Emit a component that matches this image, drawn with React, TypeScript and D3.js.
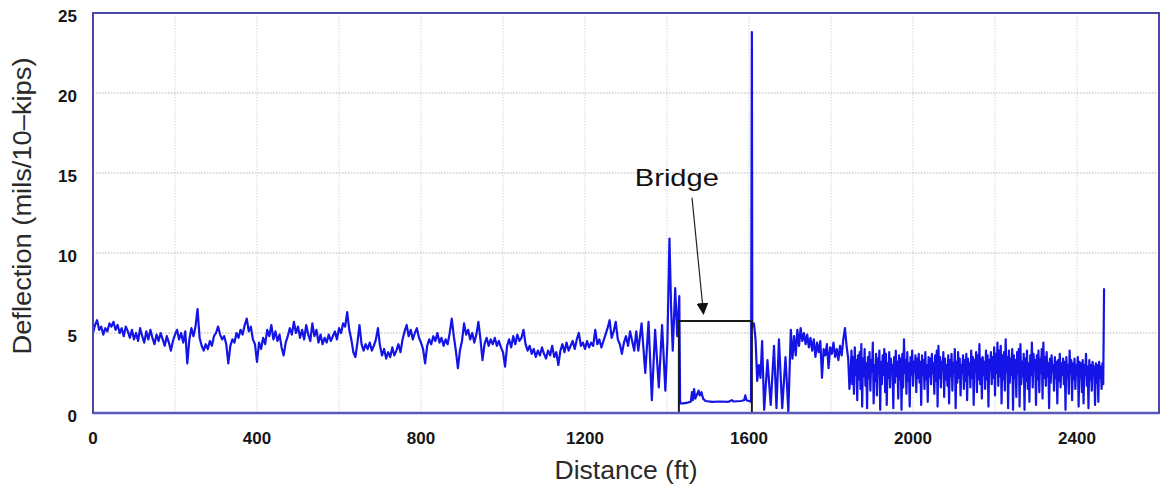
import React from 'react';
import * as d3 from 'd3';

// Falling-weight deflection profile along a roadway alignment, with a bridge span.

const WIDTH = 1163;
const HEIGHT = 486;

const X_TICKS = [0, 400, 800, 1200, 1600, 2000, 2400];
const X_GRID = [200, 400, 600, 800, 1000, 1200, 1400, 1600, 1800, 2000, 2200, 2400];
const Y_TICKS = [0, 5, 10, 15, 20, 25];
const Y_GRID = [5, 10, 15, 20];

// Approach pavement, stations every 5 ft from 0 to 1295 ft (mils/10-kips)
const APPROACH_STEP = 5;
const approachDefl = [
  5.0, 5.5, 5.8, 5.2, 5.4, 4.9, 5.3, 5.1, 5.6, 5.4, 5.7, 5.2, 5.5, 5.0, 5.3, 4.8, 5.4, 5.1, 4.7, 5.2,
  4.6, 5.0, 4.5, 5.3, 4.8, 4.4, 5.1, 4.6, 5.2, 4.7, 4.3, 4.9, 4.5, 5.0, 4.6, 4.2, 4.8, 4.4, 3.9, 4.5,
  4.9, 5.2, 4.6, 5.0, 4.4, 5.1, 3.1, 4.6, 5.3, 4.8, 5.4, 6.5, 4.7, 4.2, 3.9, 4.3, 4.0, 4.5, 4.2, 4.8,
  5.0, 5.4, 4.9, 4.6, 4.8, 4.3, 3.1, 4.2, 4.6, 4.4, 5.0, 4.7, 5.2, 4.9, 5.5, 5.9, 5.1, 5.4, 4.6, 4.3,
  3.2, 4.4, 4.0, 4.7, 4.3, 5.2, 4.8, 5.5, 4.6, 5.1, 4.5, 4.9, 4.1, 3.6, 4.4, 4.8, 5.3, 4.9, 5.7, 5.0,
  5.4, 4.7, 5.2, 4.6, 5.5, 4.9, 4.5, 5.6, 4.8, 5.2, 4.4, 4.9, 4.3, 4.7, 4.4, 4.9, 4.5, 4.8, 5.1, 4.6,
  5.3, 5.0, 5.6, 5.4, 6.3, 5.2, 4.6, 3.8, 3.5, 4.4, 5.5, 4.3, 3.9, 4.3, 4.0, 4.4, 3.9, 4.2, 4.6, 5.3,
  4.2, 3.6, 4.0, 3.4, 3.8, 3.5, 4.1, 3.6, 3.9, 4.3, 3.8, 4.6, 5.1, 5.5, 4.8, 5.2, 4.6, 5.0, 5.3, 4.7,
  4.4, 4.0, 3.1, 4.2, 4.6, 4.3, 4.8, 4.5, 5.0, 4.4, 4.7, 4.2, 4.6, 4.3, 5.0, 5.9, 4.8, 3.9, 2.8, 3.9,
  4.5, 5.6, 4.9, 5.2, 4.6, 5.0, 4.4, 4.9, 5.7, 4.6, 3.3, 4.3, 4.7, 4.2, 4.6, 4.3, 4.7, 4.2, 4.5, 4.1,
  3.8, 2.9, 4.2, 4.6, 4.1, 4.8, 4.3, 4.9, 4.5, 4.7, 5.2, 4.3, 3.9, 4.2, 3.7, 4.0, 3.5, 3.9, 3.6, 4.1,
  3.7, 3.4, 3.9, 3.6, 4.2, 3.5, 3.8, 3.0, 3.9, 4.3, 3.8, 4.4, 3.9, 4.2, 4.5, 4.0, 4.6, 5.0, 4.2, 4.4,
  4.0, 4.5, 4.1, 4.4, 4.2, 5.2, 4.3, 4.6, 4.1, 4.5, 4.9, 5.3, 5.8, 4.7, 5.1, 5.7, 4.6, 4.3, 3.7, 4.4,
];

// Approach slab just before the bridge: [distance ft, deflection]
const approachSlab: [number, number][] = [
  [1300, 4.8], [1305, 4.2], [1310, 5.1], [1315, 4.5], [1320, 3.9], [1325, 5.1], [1330, 3.9],
  [1338, 5.6], [1347, 2.5], [1355, 5.7], [1363, 0.8], [1371, 5.2], [1380, 1.6], [1388, 5.5],
  [1396, 1.4], [1401, 4.5], [1406, 10.9], [1410, 6.6], [1414, 3.9], [1420, 7.8], [1425, 4.8],
  [1430, 7.3],
];

// Bridge deck readings
const bridgeDeck: [number, number][] = [
  [1432, 0.6], [1440, 0.6], [1450, 0.65], [1458, 0.7], [1461, 1.3], [1463, 0.8], [1466, 1.5],
  [1469, 0.9], [1474, 1.2], [1477, 1.4], [1480, 1.1], [1484, 1.3], [1488, 0.9], [1494, 0.75],
  [1510, 0.7], [1530, 0.72], [1550, 0.7], [1558, 0.8], [1562, 0.72], [1580, 0.75], [1588, 0.8],
  [1591, 1.1], [1594, 0.8], [1600, 0.75], [1605, 0.7],
];

// Expansion joint at the far abutment and the departure slab
const departureSlab: [number, number][] = [
  [1607, 23.8], [1608, 5.4], [1612, 5.6], [1616, 4.6], [1620, 2.0], [1624, 3.0], [1628, 2.2],
  [1632, 4.5], [1637, 0.2], [1645, 3.3], [1653, 0.5], [1661, 4.2], [1667, 0.3], [1673, 4.6],
  [1681, 0.3], [1689, 3.5], [1696, 0.1], [1702, 5.2], [1706, 3.4], [1710, 4.8], [1714, 3.6],
  [1718, 5.2], [1722, 4.2], [1726, 5.3], [1730, 4.5], [1734, 5.0], [1738, 4.3], [1742, 4.9],
  [1746, 4.1], [1750, 4.7], [1754, 3.9], [1758, 4.6], [1762, 3.5], [1766, 4.4], [1770, 3.8],
  [1774, 4.5], [1778, 2.2], [1782, 4.0], [1786, 3.6], [1790, 4.3], [1794, 2.8], [1798, 4.1],
  [1802, 3.7], [1806, 4.4], [1810, 3.5], [1814, 4.0], [1818, 3.3], [1822, 4.2], [1826, 3.6],
  [1830, 4.6], [1834, 5.3], [1838, 4.2], [1842, 3.4], [1845, 1.5],
];

// Far pavement, stations every 2 ft from 1848 to 2464 ft
const FAR_START = 1848;
const FAR_STEP = 2;
const farDefl = [
  2.6, 3.9, 1.8, 3.5, 1.2, 4.1, 2.4, 3.3, 0.8, 3.6, 2.1, 3.8, 1.5, 4.3, 0.4, 3.4, 2.3, 4.0, 1.7, 3.1,
  0.3, 3.5, 2.2, 3.8, 1.4, 3.3, 2.6, 4.4, 0.6, 3.0, 2.0, 3.7, 1.1, 3.4, 2.5, 3.9, 0.2, 3.2, 1.8, 3.6,
  2.4, 4.0, 1.3, 3.7, 0.5, 3.1, 2.2, 3.8, 1.6, 3.4, 2.7, 3.0, 0.3, 3.5, 1.9, 3.9, 2.3, 3.2, 0.9, 3.6,
  2.1, 3.4, 0.2, 3.7, 1.6, 4.6, 2.5, 3.3, 1.2, 3.8, 2.0, 3.1, 0.4, 3.5, 2.4, 3.9, 1.7, 3.2, 2.6, 3.6,
  1.3, 3.4, 2.2, 3.7, 1.9, 3.2, 0.5, 3.6, 2.4, 3.3, 1.5, 3.8, 2.1, 3.0, 0.7, 3.5, 2.3, 3.4, 1.8, 3.7,
  2.5, 3.1, 1.2, 3.6, 2.0, 3.9, 0.4, 4.2, 2.2, 3.5, 1.6, 3.2, 2.7, 3.8, 1.0, 3.4, 2.1, 3.0, 1.7, 3.6,
  0.6, 3.3, 2.3, 3.7, 1.4, 3.1, 2.6, 4.0, 0.3, 3.2, 1.9, 3.8, 2.2, 3.4, 1.1, 3.0, 2.5, 3.6, 1.5, 3.3,
  2.0, 3.7, 0.8, 3.4, 2.4, 3.1, 1.6, 3.9, 2.2, 3.5, 0.5, 3.3, 2.6, 3.8, 1.3, 3.6, 2.1, 4.3, 1.8, 3.4,
  0.9, 3.5, 2.4, 3.2, 1.5, 3.9, 2.1, 3.6, 0.4, 3.3, 2.7, 3.8, 1.8, 3.5, 2.2, 4.1, 1.1, 3.7, 2.5, 4.4,
  1.7, 3.9, 2.3, 4.2, 0.6, 3.6, 2.1, 3.8, 1.4, 4.6, 2.6, 3.5, 0.3, 3.9, 1.9, 3.4, 2.4, 4.0, 0.2, 3.6,
  2.2, 3.3, 1.0, 3.8, 2.5, 4.0, 0.4, 4.3, 1.8, 3.2, 2.3, 3.7, 0.2, 3.4, 2.0, 3.9, 1.5, 3.1, 0.7, 3.6,
  2.4, 4.4, 1.6, 3.7, 2.8, 3.3, 0.5, 3.6, 2.1, 3.9, 1.3, 3.4, 2.5, 4.0, 0.9, 4.4, 2.2, 3.5, 1.7, 3.8,
  2.3, 3.1, 0.3, 3.4, 1.9, 3.6, 2.6, 3.0, 1.4, 3.5, 2.2, 3.2, 0.6, 3.3, 2.0, 3.7, 1.6, 3.1, 2.4, 3.4,
  1.8, 3.2, 0.2, 3.5, 2.3, 3.0, 1.2, 3.9, 2.5, 3.3, 0.8, 3.1, 2.1, 3.4, 1.5, 3.0, 2.6, 3.5, 0.4, 3.2,
  2.2, 3.1, 1.3, 3.3, 0.6, 3.0, 2.4, 3.7, 1.7, 2.9, 0.3, 3.3, 2.1, 3.0, 1.4, 3.2, 2.5, 2.9, 0.5, 3.1,
  1.9, 3.0, 0.7, 3.2, 2.2, 2.9, 1.5, 3.1, 1.8,
];

// Last reading at the end of the run
const endReading: [number, number][] = [[2466, 7.8]];

// Bridge annotation (distance ft / deflection)
const BRIDGE_START = 1429;
const BRIDGE_END = 1607;
const BRIDGE_BOX_TOP = 5.75;
const BRIDGE_LABEL: [number, number] = [1424, 14.2];
const BRIDGE_ARROW_FROM: [number, number] = [1461, 13.45];
const BRIDGE_ARROW_TO: [number, number] = [1489, 6.2];

type Pt = { d: number; v: number };

const profile: Pt[] = [
  ...approachDefl.map((v, i) => ({ d: i * APPROACH_STEP, v })),
  ...approachSlab.map(([d, v]) => ({ d, v })),
  ...bridgeDeck.map(([d, v]) => ({ d, v })),
  ...departureSlab.map(([d, v]) => ({ d, v })),
  ...farDefl.map((v, i) => ({ d: FAR_START + i * FAR_STEP, v })),
  ...endReading.map(([d, v]) => ({ d, v })),
];

const FONT = '"Liberation Sans", Arial, Helvetica, sans-serif';

export default function App() {
  const x = d3.scaleLinear().domain([0, 2600]).range([93, 1159]);
  const y = d3.scaleLinear().domain([0, 25]).range([413, 13]);

  const line = d3
    .line<Pt>()
    .x((p) => x(p.d))
    .y((p) => y(p.v));

  const [x0, x1] = x.range();
  const [yBottom, yTop] = y.range();

  return (
    <svg
      width={WIDTH}
      height={HEIGHT}
      style={{ position: 'absolute', left: 0, top: 0, display: 'block', background: '#fff' }}
    >
      <defs>
        <marker
          id="arrowHead"
          viewBox="0 0 10 10"
          refX="9"
          refY="5"
          markerWidth="12"
          markerHeight="12"
          markerUnits="userSpaceOnUse"
          orient="auto"
        >
          <path d="M0,0 L10,5 L0,10 Z" fill="#111" />
        </marker>
      </defs>

      {/* grid */}
      {X_GRID.map((g) => (
        <line
          key={'gx' + g}
          x1={x(g)}
          x2={x(g)}
          y1={yTop}
          y2={yBottom}
          stroke="#d6d6d6"
          strokeWidth={1}
          strokeDasharray="1.5,1.5"
        />
      ))}
      {Y_GRID.map((g) => (
        <line
          key={'gy' + g}
          x1={x0}
          x2={x1}
          y1={y(g)}
          y2={y(g)}
          stroke="#b4b4b4"
          strokeWidth={1}
          strokeDasharray="1.5,1.5"
        />
      ))}

      {/* deflection trace */}
      <path d={line(profile) ?? ''} fill="none" stroke="#1414e6" strokeWidth={2.2} strokeLinejoin="round" />

      {/* bridge annotation */}
      <rect
        x={x(BRIDGE_START)}
        y={y(BRIDGE_BOX_TOP)}
        width={x(BRIDGE_END) - x(BRIDGE_START)}
        height={y(0) - y(BRIDGE_BOX_TOP)}
        fill="none"
        stroke="#1a1a1a"
        strokeWidth={2}
      />
      <line
        x1={x(BRIDGE_ARROW_FROM[0])}
        y1={y(BRIDGE_ARROW_FROM[1])}
        x2={x(BRIDGE_ARROW_TO[0])}
        y2={y(BRIDGE_ARROW_TO[1])}
        stroke="#222"
        strokeWidth={1.2}
        markerEnd="url(#arrowHead)"
      />
      <text
        x={x(BRIDGE_LABEL[0])}
        y={y(BRIDGE_LABEL[1])}
        textAnchor="middle"
        fontFamily={FONT}
        fontSize={24}
        textLength={84}
        lengthAdjust="spacingAndGlyphs"
        fill="#111"
      >
        Bridge
      </text>

      {/* plot frame */}
      <rect
        x={x0}
        y={yTop}
        width={x1 - x0}
        height={yBottom - yTop}
        fill="none"
        stroke="#4a48a8"
        strokeWidth={2}
      />
      <line x1={x0} x2={x1} y1={yBottom} y2={yBottom} stroke="#5a58b8" strokeWidth={2.5} />

      {/* y ticks */}
      {Y_TICKS.map((t) => (
        <text
          key={'yt' + t}
          x={77}
          y={y(t) + 9}
          textAnchor="end"
          fontFamily={FONT}
          fontWeight="bold"
          fontSize={17}
          fill="#161616"
        >
          {t}
        </text>
      ))}

      {/* x ticks */}
      {X_TICKS.map((t) => (
        <text
          key={'xt' + t}
          x={x(t)}
          y={yBottom + 31}
          textAnchor="middle"
          fontFamily={FONT}
          fontWeight="bold"
          fontSize={17}
          fill="#161616"
        >
          {t}
        </text>
      ))}

      {/* axis titles */}
      <text
        x={626}
        y={479}
        textAnchor="middle"
        fontFamily={FONT}
        fontSize={25}
        textLength={143}
        lengthAdjust="spacingAndGlyphs"
        fill="#2a2a2a"
      >
        Distance (ft)
      </text>
      <text
        transform="translate(31,206) rotate(-90)"
        textAnchor="middle"
        fontFamily={FONT}
        fontSize={25}
        textLength={297}
        lengthAdjust="spacingAndGlyphs"
        fill="#2a2a2a"
      >
        Deflection (mils/10–kips)
      </text>
    </svg>
  );
}
